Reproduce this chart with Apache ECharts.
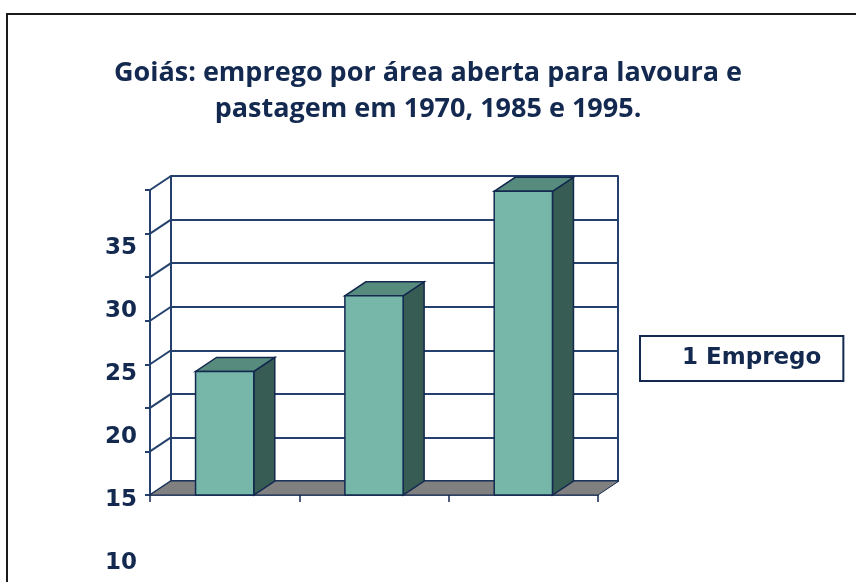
<!DOCTYPE html>
<html>
<head>
<meta charset="utf-8">
<script src="https://cdn.jsdelivr.net/npm/echarts@6/dist/echarts.min.js"></script>
<style>
html, body { margin: 0; padding: 0; background: #fff; }
#chart { width: 856px; height: 582px; }
</style>
</head>
<body>
<div id="chart"></div>
<script>
// dados
const titleText = 'Goiás: emprego por área aberta para lavoura e\npastagem em 1970, 1985 e 1995.';
const seriesName = '1 Emprego';
const categories = ['1970', '1985', '1995'];
const empregoValues = [24.8, 30.8, 39.1];
const labelTicks = [10, 15, 20, 25, 30, 35];   // rótulos do eixo (como aparecem)
const wallSteps = [0, 1, 2, 3, 4, 5, 6, 7];    // linhas da parede do fundo

const NAVY = '#13294f';
const GRID_LINE = '#24406c';
const DEPTH = [21, -14];   // deslocamento "3D"
const AXIS_MIN = 15;
const AXIS_MAX = 39.2;

function renderFloor(params, api) {
  const cs = params.coordSys;
  const [dx, dy] = DEPTH;
  const yb = cs.y + cs.height;
  return {
    type: 'polygon',
    shape: { points: [[cs.x, yb], [cs.x + cs.width, yb], [cs.x + cs.width + dx, yb + dy], [cs.x + dx, yb + dy]] },
    style: { fill: '#808080', stroke: NAVY, lineWidth: 1 }
  };
}

function renderSideWall(params, api) {
  const cs = params.coordSys;
  const p = api.coord([0, api.value(1)]);
  const [dx, dy] = DEPTH;
  return {
    type: 'line',
    shape: { x1: cs.x, y1: p[1], x2: cs.x + dx, y2: p[1] + dy },
    style: { stroke: GRID_LINE, lineWidth: 2 }
  };
}

function renderBar(params, api) {
  const v = api.value(1);
  const base = api.coord([api.value(0), AXIS_MIN]);
  const top = api.coord([api.value(0), v]);
  const band = api.size([1, 0])[0];
  const w = band * 0.39;
  const x0 = top[0] - w / 2, x1 = top[0] + w / 2;
  const ty = top[1], by = base[1];
  const [dx, dy] = DEPTH;
  const edge = { stroke: NAVY, lineWidth: 1.5 };
  return {
    type: 'group',
    children: [
      { type: 'polygon', shape: { points: [[x1, ty], [x1 + dx, ty + dy], [x1 + dx, by + dy], [x1, by]] },
        style: Object.assign({ fill: '#375c53' }, edge) },
      { type: 'polygon', shape: { points: [[x0, ty], [x1, ty], [x1 + dx, ty + dy], [x0 + dx, ty + dy]] },
        style: Object.assign({ fill: '#568b7d' }, edge) },
      { type: 'rect', shape: { x: x0, y: ty, width: w, height: by - ty },
        style: Object.assign({ fill: '#76b7a9' }, edge) }
    ]
  };
}

const chart = echarts.init(document.getElementById('chart'));
chart.setOption({
  animation: false,
  backgroundColor: '#fff',
  title: {
    text: titleText,
    left: 'center',
    top: 50,
    textStyle: { fontFamily: 'Open Sans', fontWeight: 'bold', fontSize: 27, color: NAVY, lineHeight: 36 }
  },
  legend: {
    data: [seriesName],
    left: 640,
    top: 336,
    icon: 'none',
    itemWidth: 17,
    padding: [11, 22, 11, 20],
    borderColor: NAVY,
    borderWidth: 2,
    textStyle: { fontFamily: 'DejaVu Sans', fontWeight: 'bold', fontSize: 23, color: NAVY },
    selectedMode: false
  },
  graphic: [{
    type: 'rect', z: -10,
    shape: { x: 7, y: 14, width: 900, height: 620 },
    style: { fill: 'none', stroke: '#1a1a1a', lineWidth: 2 }
  }],
  grid: [
    { left: 150, top: 190, width: 448, height: 305, outerBoundsMode: 'none' },  // frente
    { left: 171, top: 176, width: 447, height: 305, outerBoundsMode: 'none' },  // fundo
    { left: 140, top: 248, width: 1, height: 315, outerBoundsMode: 'none' }     // rótulos
  ],
  xAxis: [
    {
      gridIndex: 0, type: 'category', data: categories, boundaryGap: true,
      axisLine: { lineStyle: { color: NAVY, width: 1.5 } },
      axisTick: { show: true, length: 7, alignWithLabel: false, lineStyle: { color: NAVY, width: 1.5 } },
      axisLabel: { show: false }
    },
    { gridIndex: 1, type: 'category', data: categories, show: false },
    { gridIndex: 2, type: 'value', show: false }
  ],
  yAxis: [
    { gridIndex: 0, type: 'value', min: AXIS_MIN, max: AXIS_MAX, show: false },
    {
      gridIndex: 0, type: 'value', position: 'left',
      min: wallSteps[0], max: wallSteps[wallSteps.length - 1], interval: 1,
      axisLine: { show: true, lineStyle: { color: GRID_LINE, width: 2 } },
      axisTick: { show: true, length: 5, lineStyle: { color: GRID_LINE, width: 2 } },
      axisLabel: { show: false }, splitLine: { show: false }
    },
    {
      gridIndex: 1, type: 'value', position: 'left',
      min: wallSteps[0], max: wallSteps[wallSteps.length - 1], interval: 1,
      axisLine: { show: true, lineStyle: { color: GRID_LINE, width: 2 } },
      axisTick: { show: false }, axisLabel: { show: false },
      splitLine: { show: true, lineStyle: { color: GRID_LINE, width: 2 } }
    },
    {
      gridIndex: 1, type: 'value', position: 'right',
      min: wallSteps[0], max: wallSteps[wallSteps.length - 1],
      axisLine: { show: true, lineStyle: { color: GRID_LINE, width: 2 } },
      axisTick: { show: false }, axisLabel: { show: false }, splitLine: { show: false }
    },
    {
      gridIndex: 2, type: 'value', position: 'left',
      min: labelTicks[0], max: labelTicks[labelTicks.length - 1], interval: labelTicks[1] - labelTicks[0],
      axisLine: { show: false }, axisTick: { show: false }, splitLine: { show: false },
      axisLabel: { margin: 3, fontFamily: 'DejaVu Sans', fontWeight: 'bold', fontSize: 23, color: NAVY }
    }
  ],
  series: [
    {
      type: 'custom', name: 'parede', xAxisIndex: 0, yAxisIndex: 1, z: 1,
      renderItem: renderSideWall, silent: true,
      data: wallSteps.map(s => [0, s])
    },
    {
      type: 'custom', name: 'piso', xAxisIndex: 0, yAxisIndex: 0, z: 2,
      renderItem: renderFloor, silent: true,
      data: [[0, AXIS_MIN]]
    },
    {
      type: 'custom', name: seriesName, xAxisIndex: 0, yAxisIndex: 0, z: 3,
      renderItem: renderBar,
      itemStyle: { color: '#76b7a9' },
      data: empregoValues.map((v, i) => [i, v])
    }
  ]
});
</script>
</body>
</html>
